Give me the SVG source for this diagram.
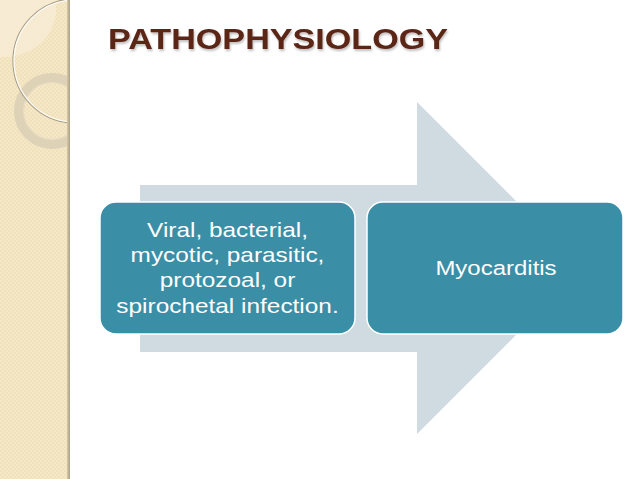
<svg xmlns="http://www.w3.org/2000/svg" width="638" height="479" viewBox="0 0 638 479">
  <defs>
    <style>
      .title { font-family: "Liberation Sans", Arial, sans-serif; font-weight: bold; font-size: 29px; fill: #5b2517; }
      .label { font-family: "Liberation Sans", Arial, sans-serif; font-size: 20px; fill: #ffffff; text-anchor: middle; }
      .box { fill: #3a8ea6; stroke: #ffffff; stroke-width: 1.5; }
      .arrow { fill: #cfdbe1; }
    </style>
    <pattern id="weave" width="4" height="4" patternUnits="userSpaceOnUse">
      <rect width="4" height="4" fill="#f1e1ba"/>
      <rect width="2" height="2" fill="#f5e8c8"/>
      <rect x="2" y="2" width="2" height="2" fill="#f5e8c8"/>
    </pattern>
    <clipPath id="band">
      <rect x="0" y="0" width="70" height="479"/>
    </clipPath>
    <linearGradient id="edge" x1="0" x2="1" y1="0" y2="0">
      <stop offset="0" stop-color="#d8c9a4"/>
      <stop offset="1" stop-color="#a9a08c"/>
    </linearGradient>
    <filter id="shadow" x="-5%" y="-20%" width="110%" height="150%">
      <feDropShadow dx="1" dy="2" stdDeviation="1.2" flood-color="#000000" flood-opacity="0.25"/>
    </filter>
  </defs>

  <rect width="638" height="479" fill="#ffffff"/>

  <!-- decorative left band -->
  <g id="sidebar">
    <rect x="0" y="0" width="70" height="479" fill="url(#weave)"/>
    <path d="M0,0 H56 V14 Q50,50 10,57 H0 Z" fill="#f7ecd6" opacity="0.8"/>
    <g clip-path="url(#band)">
      <circle cx="52" cy="111" r="33" fill="none" stroke="#d6ccb3" stroke-width="10" opacity="0.75"/>
      <circle cx="52" cy="111" r="28.5" fill="none" stroke="#ece2c9" stroke-width="1" opacity="0.8"/>
      <circle cx="75" cy="61" r="62" fill="none" stroke="#a89c86" stroke-width="1.3"/>
      <circle cx="75" cy="61" r="61" fill="none" stroke="#ffffff" stroke-width="1.2" opacity="0.9"/>
    </g>
    <rect x="67" y="0" width="3" height="479" fill="url(#edge)"/>
  </g>

  <!-- title -->
  <g id="title" filter="url(#shadow)">
    <text class="title" x="108" y="49" textLength="340" lengthAdjust="spacingAndGlyphs">PATHOPHYSIOLOGY</text>
  </g>

  <!-- background flow arrow -->
  <g id="connectors">
    <path class="arrow" d="M140,185 H417 V102 L583,268 L417,434 V352 H140 Z"/>
  </g>

  <g id="node-infection">
    <rect class="box" x="100" y="202" width="255" height="132" rx="16" ry="16"/>
    <g transform="translate(227.5 0) scale(1.22 1)">
      <text class="label" x="0" y="237">Viral, bacterial,</text>
      <text class="label" x="0" y="262">mycotic, parasitic,</text>
      <text class="label" x="0" y="287.5">protozoal, or</text>
      <text class="label" x="0" y="313">spirochetal infection.</text>
    </g>
  </g>

  <g id="node-myocarditis">
    <rect class="box" x="367" y="202" width="256" height="132" rx="16" ry="16"/>
    <g transform="translate(496 0) scale(1.17 1)">
      <text class="label" x="0" y="275" style="font-size:20.5px">Myocarditis</text>
    </g>
  </g>
</svg>
